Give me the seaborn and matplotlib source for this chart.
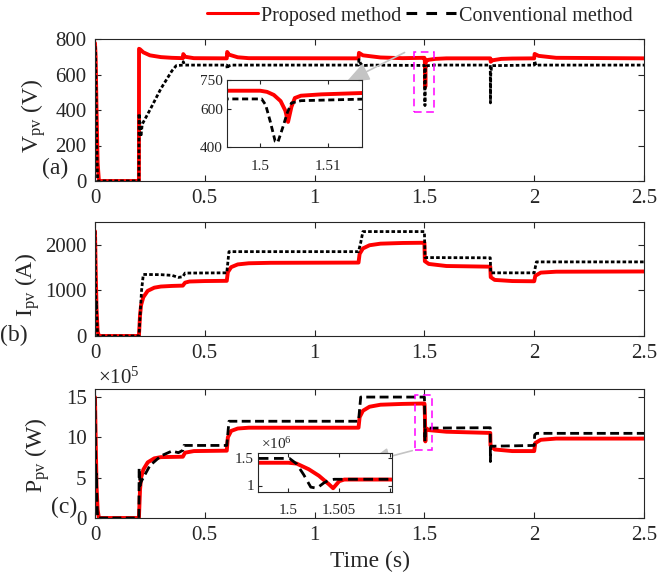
import matplotlib
matplotlib.use("Agg")
import matplotlib.pyplot as plt
import seaborn as sns
import pandas as pd
from matplotlib.lines import Line2D
from matplotlib.patches import Rectangle
from matplotlib.ticker import FuncFormatter

# ---------------- data ----------------
methods = ["Proposed method", "Conventional method"]
colors = {"Proposed method": "#ff0000", "Conventional method": "#000000"}

# PV voltage (V): (time s, value)
v_prop = [(0, 777), (0.003, 700), (0.007, 400), (0.012, 100), (0.018, 0), (0.2, 0),
          (0.2005, 745), (0.205, 742), (0.22, 725), (0.25, 708), (0.3, 698), (0.35, 694),
          (0.4, 692), (0.402, 715), (0.41, 700), (0.45, 692), (0.6, 691), (0.602, 727),
          (0.61, 712), (0.65, 697), (0.7, 692), (1.2, 691), (1.202, 722), (1.22, 708),
          (1.3, 696), (1.4, 692), (1.4951, 694), (1.5, 694), (1.501, 688), (1.502, 672),
          (1.503, 640), (1.5037, 590), (1.5041, 531), (1.5046, 610), (1.5051, 656),
          (1.506, 668), (1.509, 675), (1.515, 682), (1.55, 688), (1.6, 691), (1.8, 691),
          (1.802, 672), (1.81, 680), (1.85, 688), (1.9, 690), (2.0, 691), (2.002, 716),
          (2.02, 705), (2.1, 694), (2.5, 691)]
v_conv = [(0, 760), (0.002, 740), (0.005, 500), (0.008, 200), (0.012, 0), (0.2, 0),
          (0.2005, 380), (0.204, 330), (0.209, 250), (0.215, 320), (0.25, 400), (0.3, 520),
          (0.35, 620), (0.37, 650), (0.4, 653), (0.402, 672), (0.408, 653), (0.6, 653),
          (0.602, 632), (0.608, 648), (0.62, 653), (1.2, 653), (1.202, 684), (1.21, 660),
          (1.22, 650), (1.25, 653), (1.4951, 651), (1.5002, 651), (1.5008, 620),
          (1.5015, 530), (1.5022, 430), (1.5026, 425), (1.5033, 500), (1.504, 580),
          (1.5046, 630), (1.506, 642), (1.515, 650), (1.55, 653), (1.8, 653), (1.8008, 440),
          (1.802, 600), (1.806, 650), (2.0, 653), (2.002, 676), (2.008, 650), (2.02, 653),
          (2.5, 653)]

# PV current (A)
i_prop = [(0, 2300), (0.003, 1500), (0.007, 600), (0.012, 100), (0.018, 0), (0.2, 0),
          (0.205, 450), (0.21, 680), (0.22, 850), (0.24, 990), (0.27, 1060), (0.3, 1085),
          (0.35, 1098), (0.4, 1105), (0.41, 1170), (0.43, 1195), (0.5, 1205), (0.6, 1210),
          (0.605, 1400), (0.62, 1510), (0.65, 1570), (0.7, 1595), (0.8, 1605), (1.2, 1610),
          (1.205, 1800), (1.22, 1920), (1.25, 1990), (1.3, 2025), (1.4, 2040), (1.5, 2045),
          (1.502, 1640), (1.52, 1580), (1.6, 1535), (1.8, 1520), (1.802, 1290), (1.82, 1230),
          (1.9, 1205), (2.0, 1200), (2.005, 1320), (2.03, 1390), (2.1, 1410), (2.5, 1415)]
i_conv = [(0, 2300), (0.002, 1500), (0.004, 600), (0.006, 750), (0.009, 300), (0.012, 0),
          (0.2, 0), (0.212, 1000), (0.22, 1350), (0.3, 1345), (0.35, 1330), (0.38, 1285),
          (0.4, 1300), (0.41, 1380), (0.6, 1385), (0.61, 1850), (1.2, 1850), (1.21, 2050),
          (1.22, 2290), (1.5, 2290), (1.5005, 2200), (1.503, 1720), (1.8, 1715),
          (1.802, 1385), (2.0, 1385), (2.01, 1625), (2.5, 1625)]

# PV power (x1e5 W)
p_prop = [(0, 15.0), (0.003, 10.0), (0.007, 4.0), (0.012, 1.0), (0.018, 0), (0.2, 0),
          (0.205, 3.5), (0.21, 5.0), (0.22, 6.0), (0.24, 6.9), (0.27, 7.4), (0.3, 7.55),
          (0.4, 7.6), (0.41, 8.1), (0.45, 8.3), (0.6, 8.35), (0.605, 10.0), (0.62, 10.8),
          (0.65, 11.1), (0.7, 11.2), (1.2, 11.2), (1.205, 12.5), (1.22, 13.3), (1.25, 13.8),
          (1.3, 14.05), (1.4, 14.15), (1.497, 14.2), (1.5, 14.2), (1.5008, 14.05),
          (1.502, 13.0), (1.503, 11.8), (1.504, 10.2), (1.5044, 9.5), (1.505, 10.8),
          (1.5055, 11.1), (1.51, 11.1), (1.52, 10.9), (1.6, 10.7), (1.8, 10.55), (1.801, 9.0),
          (1.82, 8.5), (1.9, 8.3), (2.0, 8.3), (2.005, 9.3), (2.03, 9.7), (2.1, 9.85),
          (2.5, 9.85)]
p_conv = [(0, 15.0), (0.002, 10.0), (0.004, 4.0), (0.006, 5.5), (0.009, 2.0), (0.012, 0),
          (0.2, 0), (0.201, 6.2), (0.205, 4.0), (0.21, 4.5), (0.25, 6.5), (0.3, 7.7),
          (0.35, 8.3), (0.38, 8.1), (0.4, 8.4), (0.405, 9.0), (0.6, 9.0), (0.61, 12.0),
          (1.2, 12.0), (1.21, 15.0), (1.497, 15.0), (1.5001, 15.0), (1.5008, 14.0),
          (1.5015, 12.0), (1.5022, 9.7), (1.5028, 9.5), (1.5035, 10.5), (1.504, 11.0),
          (1.5045, 11.15), (1.51, 11.15), (1.8, 11.2), (1.8005, 7.0), (1.802, 8.9),
          (2.0, 9.0), (2.002, 10.3), (2.01, 10.5), (2.5, 10.5)]
P_SCALE = 1e5

x_ticks = [0, 0.5, 1, 1.5, 2, 2.5]
v_ticks = [0, 200, 400, 600, 800]
i_ticks = [0, 1000, 2000]
p_ticks = [0, 5e5, 10e5, 15e5]
v_inset_xticks = [1.5, 1.51]
v_inset_yticks = [400, 600, 750]
p_inset_xticks = [1.5, 1.505, 1.51]
p_inset_yticks = [1e6, 1.5e6]


def frame(prop, conv, scale=1.0):
    rows = []
    for name, pts in zip(methods, [prop, conv]):
        for t, y in pts:
            rows.append({"t": t, "val": y * scale, "method": name})
    return pd.DataFrame(rows)


df_v = frame(v_prop, v_conv)
df_i = frame(i_prop, i_conv)
df_p = frame(p_prop, p_conv, P_SCALE)

# ---------------- style ----------------
sns.set_style("ticks")
plt.rcParams["font.family"] = ["Liberation Serif", "DejaVu Serif"]
plt.rcParams["mathtext.fontset"] = "custom"
plt.rcParams["mathtext.rm"] = "Liberation Serif"
plt.rcParams["mathtext.it"] = "Liberation Serif:italic"
plt.rcParams["axes.linewidth"] = 0.8

W, H = 669, 578
fig = plt.figure(figsize=(W / 100, H / 100), dpi=100)


def rect(l, t, r, b):
    return [l / W, 1 - b / H, (r - l) / W, (b - t) / H]


def draw(ax, df, dash, lw_red=2.8, lw_blk=2.0):
    sns.lineplot(data=df, x="t", y="val", hue="method", style="method", size="method",
                 hue_order=methods, style_order=methods, size_order=methods,
                 palette=colors, dashes={methods[0]: "", methods[1]: dash},
                 sizes={methods[0]: lw_red, methods[1]: lw_blk},
                 estimator=None, sort=False, legend=False, ax=ax)
    ax.set_xlabel("")
    ax.set_ylabel("")


def style_main(ax, yticks, ylim):
    ax.set_xlim(0, 2.5)
    ax.set_ylim(*ylim)
    ax.set_xticks(x_ticks)
    ax.set_yticks(yticks)
    ax.xaxis.set_major_formatter(FuncFormatter(lambda v, p: f"{v:g}"))
    ax.tick_params(direction="in", top=True, right=True, length=4, width=0.8,
                   labelsize=15, pad=6)
    for s in ax.spines.values():
        s.set_visible(True)
        s.set_linewidth(0.8)


def style_inset(ax, xlim, ylim, xt, yt, yfmt):
    ax.set_xlim(*xlim)
    ax.set_ylim(*ylim)
    ax.set_xticks(xt)
    ax.set_yticks(yt)
    ax.xaxis.set_major_formatter(FuncFormatter(lambda v, p: f"{v:g}"))
    ax.yaxis.set_major_formatter(FuncFormatter(yfmt))
    ax.tick_params(direction="in", top=True, right=True, length=3, width=0.8,
                   labelsize=11)
    ax.tick_params(axis="x", pad=9)
    ax.tick_params(axis="y", pad=3)
    ax.set_facecolor("white")
    for s in ax.spines.values():
        s.set_visible(True)
        s.set_linewidth(0.8)


LBL = 17
ARROW = dict(arrowstyle="-|>,head_length=1.0,head_width=0.4",
             color="#c4c4c4", lw=1.2, mutation_scale=14)
# ---------------- (a) voltage ----------------
ax1 = fig.add_axes(rect(95, 39, 644, 181))
draw(ax1, df_v, (1.3, 0.8))
style_main(ax1, v_ticks, (0, 800))
ax1.set_ylabel(r"V$_{\mathrm{pv}}$ (V)", fontsize=LBL)
ax1.yaxis.set_label_coords(-0.111, 0.458)
ax1.yaxis.label.set_verticalalignment("center")
ax1.add_patch(Rectangle((1.453, 389), 0.091, 338, fill=False, edgecolor="#ff00ff",
                        lw=1.1, linestyle=(0, (5, 3)), zorder=5))
ax1.annotate("", xy=(1.134, 552), xytext=(1.421, 731), arrowprops=ARROW)

axi1 = fig.add_axes(rect(227, 80, 362, 147))
draw(axi1, df_v, (2.2, 1.3))
style_inset(axi1, (1.4951, 1.515), (400, 750), v_inset_xticks, v_inset_yticks,
            lambda v, p: f"{v:g}")

# ---------------- (b) current ----------------
ax2 = fig.add_axes(rect(95, 222, 644, 336))
draw(ax2, df_i, (1.3, 0.8))
style_main(ax2, i_ticks, (0, 2500))
ax2.set_ylabel(r"I$_{\mathrm{pv}}$ (A)", fontsize=LBL)
ax2.yaxis.set_label_coords(-0.123, 0.447)
ax2.yaxis.label.set_verticalalignment("center")

# ---------------- (c) power ----------------
ax3 = fig.add_axes(rect(95, 389, 644, 518))
draw(ax3, df_p, (3.2, 1.6))
style_main(ax3, p_ticks, (0, 16e5))
ax3.yaxis.set_major_formatter(FuncFormatter(lambda v, p: f"{v / 1e5:g}"))
ax3.text(0.005, 1.005, r"$\times10^{5}$", transform=ax3.transAxes, ha="left",
         va="bottom", fontsize=15)
ax3.set_ylabel(r"P$_{\mathrm{pv}}$ (W)", fontsize=LBL)
ax3.yaxis.set_label_coords(-0.105, 0.488)
ax3.yaxis.label.set_verticalalignment("center")
ax3.set_xlabel("Time (s)", fontsize=LBL)
ax3.xaxis.set_label_coords(0.5, -0.34)
ax3.xaxis.label.set_verticalalignment("center")
ax3.add_patch(Rectangle((1.457, 8.44e5), 0.078, 6.82e5, fill=False, edgecolor="#ff00ff",
                        lw=1.1, linestyle=(0, (5, 3)), zorder=5))
ax3.annotate("", xy=(1.229, 6.82e5), xytext=(1.457, 8.44e5), arrowprops=ARROW)

axi3 = fig.add_axes(rect(258, 453, 392, 492))
draw(axi3, df_p, (3.5, 2.0))
style_inset(axi3, (1.497, 1.5102), (0.88e6, 1.60e6), p_inset_xticks, p_inset_yticks,
            lambda v, p: f"{v / 1e6:g}")
axi3.text(0.02, 1.03, r"$\times10^{6}$", transform=axi3.transAxes, ha="left",
          va="bottom", fontsize=11)

# panel tags
fig.text(55 / W, 1 - 168 / H, "(a)", fontsize=LBL, ha="center", va="center")
fig.text(14 / W, 1 - 335 / H, "(b)", fontsize=LBL, ha="center", va="center")
fig.text(64 / W, 1 - 507 / H, "(c)", fontsize=LBL, ha="center", va="center")

# legend
handles = [Line2D([], [], color=colors[methods[0]], lw=2.2),
           Line2D([], [], color=colors[methods[1]], lw=2.2, dashes=(3.5, 3))]
fig.legend(handles, methods, loc="center", bbox_to_anchor=(420 / W, 1 - 16 / H),
           ncol=2, frameon=False, fontsize=14.5, handlelength=2.5, handletextpad=0.15,
           columnspacing=0.25, borderpad=0.1)

fig.savefig("out.png", dpi=100, facecolor="white")
